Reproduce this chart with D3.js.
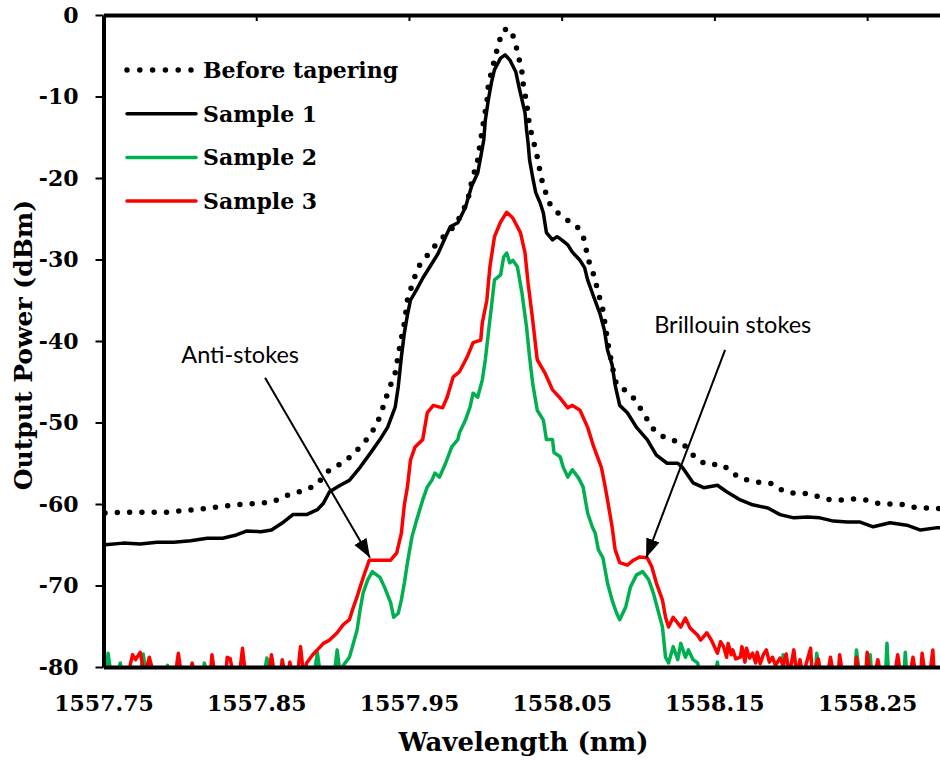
<!DOCTYPE html>
<html>
<head>
<meta charset="utf-8">
<script src="https://d3js.org/d3.v7.min.js"></script>
<style>
  html, body { margin: 0; padding: 0; background: #fff; overflow: hidden; }
  svg { display: block; }
  .axis text { font-family: 'DejaVu Serif', serif; font-weight: bold; font-size: 22px; fill: #000; }
  .axis .domain { stroke: #000; stroke-width: 4; }
  .axis .tick line { stroke: #000; stroke-width: 2; }
  .legend text { font-family: 'DejaVu Serif', serif; font-weight: bold; font-size: 22px; }
  .note { font-family: Lato, sans-serif; font-size: 23.5px; }
</style>
</head>
<body>
<script>
// wavelength (nm), output power (dBm)
const beforeTapering = [
  [1557.751,-61.1],[1557.769,-61.0],[1557.792,-61.0],[1557.815,-60.6],[1557.837,-60.1],[1557.860,-59.8],
  [1557.872,-58.8],[1557.882,-58.3],[1557.889,-57.7],[1557.898,-55.8],[1557.906,-55.0],[1557.913,-54.0],
  [1557.919,-52.8],[1557.925,-51.5],[1557.931,-49.3],[1557.936,-46.4],[1557.941,-43.9],[1557.944,-40.7],
  [1557.947,-37.8],[1557.949,-35.0],[1557.953,-32.5],[1557.957,-30.7],[1557.965,-28.8],[1557.970,-27.6],
  [1557.976,-26.7],[1557.980,-25.8],[1557.985,-24.3],[1557.989,-22.3],[1557.991,-20.5],[1557.995,-17.8],
  [1557.997,-15.3],[1557.999,-12.9],[1558.001,-10.8],[1558.002,-8.6],[1558.004,-7.0],[1558.006,-5.5],
  [1558.008,-4.0],[1558.010,-2.7],[1558.012,-1.8],[1558.016,-1.7],[1558.018,-2.5],[1558.020,-3.7],
  [1558.022,-5.3],[1558.024,-7.0],[1558.025,-8.8],[1558.027,-10.7],[1558.028,-12.3],[1558.029,-13.7],
  [1558.031,-15.1],[1558.033,-16.6],[1558.035,-18.2],[1558.036,-19.6],[1558.039,-21.5],[1558.042,-23.1],
  [1558.047,-24.2],[1558.054,-25.2],[1558.060,-25.9],[1558.065,-27.6],[1558.067,-29.8],[1558.071,-31.9],
  [1558.074,-34.1],[1558.077,-36.2],[1558.079,-38.7],[1558.081,-41.1],[1558.084,-43.9],[1558.086,-45.4],
  [1558.092,-46.1],[1558.097,-47.0],[1558.101,-48.1],[1558.105,-49.3],[1558.109,-50.6],[1558.114,-51.5],
  [1558.121,-52.1],[1558.129,-52.5],[1558.134,-53.6],[1558.139,-54.6],[1558.146,-55.2],[1558.154,-55.1],
  [1558.160,-55.8],[1558.166,-56.8],[1558.173,-57.1],[1558.181,-57.4],[1558.188,-57.5],[1558.195,-58.4],
  [1558.203,-58.7],[1558.211,-58.7],[1558.218,-59.1],[1558.226,-59.5],[1558.234,-59.5],[1558.241,-59.4],
  [1558.249,-59.5],[1558.257,-59.9],[1558.264,-60.0],[1558.272,-60.0],[1558.280,-60.4],[1558.287,-60.5],
  [1558.295,-60.5],[1558.298,-60.6]
];

const sample1 = [
  [1557.751,-65.0],[1557.763,-64.8],[1557.774,-64.9],[1557.785,-64.7],[1557.796,-64.7],[1557.807,-64.5],
  [1557.818,-64.2],[1557.828,-64.2],[1557.837,-63.8],[1557.844,-63.3],[1557.853,-63.4],[1557.860,-63.2],
  [1557.868,-62.2],[1557.874,-61.3],[1557.883,-61.3],[1557.890,-60.7],[1557.894,-59.9],[1557.898,-58.5],
  [1557.905,-57.7],[1557.911,-57.1],[1557.918,-55.5],[1557.925,-53.7],[1557.931,-52.1],[1557.936,-50.6],
  [1557.941,-48.1],[1557.943,-45.6],[1557.945,-42.0],[1557.947,-39.0],[1557.949,-36.8],[1557.951,-35.0],
  [1557.955,-33.7],[1557.959,-32.3],[1557.964,-30.8],[1557.969,-29.3],[1557.974,-27.2],[1557.977,-26.0],
  [1557.982,-25.5],[1557.987,-23.6],[1557.991,-21.0],[1557.995,-19.4],[1557.997,-17.4],[1557.999,-15.3],
  [1558.000,-12.9],[1558.002,-10.4],[1558.004,-8.3],[1558.006,-6.7],[1558.010,-5.3],[1558.013,-4.9],
  [1558.016,-5.5],[1558.020,-7.0],[1558.022,-8.8],[1558.024,-10.4],[1558.026,-12.0],[1558.027,-14.1],
  [1558.028,-15.7],[1558.029,-17.8],[1558.031,-19.9],[1558.033,-21.8],[1558.036,-23.1],[1558.038,-24.3],
  [1558.040,-26.7],[1558.044,-27.6],[1558.047,-27.2],[1558.050,-27.6],[1558.054,-28.2],[1558.057,-29.1],
  [1558.062,-30.1],[1558.065,-31.0],[1558.067,-32.5],[1558.071,-34.6],[1558.075,-36.6],[1558.078,-38.7],
  [1558.080,-41.1],[1558.083,-42.9],[1558.085,-45.4],[1558.088,-47.9],[1558.093,-48.8],[1558.099,-50.6],
  [1558.106,-52.1],[1558.112,-54.0],[1558.119,-55.0],[1558.126,-55.0],[1558.129,-55.5],[1558.136,-57.4],
  [1558.143,-58.0],[1558.152,-57.7],[1558.158,-58.5],[1558.167,-59.5],[1558.175,-60.1],[1558.185,-60.5],
  [1558.193,-61.3],[1558.202,-61.7],[1558.211,-61.6],[1558.219,-61.7],[1558.228,-62.1],[1558.237,-62.2],
  [1558.245,-62.2],[1558.254,-62.8],[1558.265,-62.3],[1558.276,-62.6],[1558.285,-63.2],[1558.296,-62.9],
  [1558.298,-62.9]
];

const sample2 = [
  [1557.751,-81],[1557.752,-81],[1557.753,-78.3],[1557.755,-81],[1557.759,-81],[1557.761,-79.5],[1557.762,-81],
  [1557.774,-81],[1557.776,-78.4],[1557.778,-81],[1557.790,-81],[1557.792,-79.8],[1557.793,-81],
  [1557.815,-81],[1557.816,-79.5],[1557.818,-81],[1557.855,-81],[1557.857,-78.9],[1557.859,-81],
  [1557.888,-81],[1557.890,-78.2],[1557.892,-81],[1557.901,-81],[1557.903,-77.9],[1557.905,-81],
  [1557.907,-79.8],[1557.911,-78.8],[1557.913,-77.5],[1557.916,-75.5],[1557.918,-73.0],[1557.920,-70.9],
  [1557.923,-69.3],[1557.926,-68.3],[1557.931,-69.0],[1557.934,-70.2],[1557.938,-72.1],[1557.940,-73.9],
  [1557.943,-73.4],[1557.945,-71.8],[1557.947,-69.7],[1557.949,-67.2],[1557.952,-64.0],[1557.955,-62.0],
  [1557.959,-59.5],[1557.962,-57.9],[1557.965,-57.1],[1557.967,-56.2],[1557.970,-56.7],[1557.974,-55.0],
  [1557.978,-53.0],[1557.982,-52.1],[1557.983,-51.3],[1557.987,-49.7],[1557.990,-48.1],[1557.992,-46.4],
  [1557.995,-46.9],[1557.998,-44.8],[1558.000,-42.3],[1558.002,-39.0],[1558.004,-35.8],[1558.006,-32.5],
  [1558.010,-31.9],[1558.012,-29.7],[1558.014,-29.2],[1558.016,-30.4],[1558.018,-30.1],[1558.021,-30.9],
  [1558.024,-34.1],[1558.027,-38.3],[1558.029,-42.0],[1558.031,-45.2],[1558.034,-48.5],[1558.038,-49.7],
  [1558.040,-52.1],[1558.044,-52.1],[1558.045,-53.7],[1558.049,-54.2],[1558.051,-55.5],[1558.054,-56.7],
  [1558.057,-55.8],[1558.061,-56.8],[1558.064,-57.9],[1558.067,-61.1],[1558.070,-62.8],[1558.072,-63.6],
  [1558.074,-65.6],[1558.077,-66.6],[1558.080,-69.7],[1558.083,-71.8],[1558.086,-73.4],[1558.088,-74.2],
  [1558.092,-72.6],[1558.095,-70.2],[1558.099,-68.7],[1558.103,-68.3],[1558.107,-69.3],[1558.110,-70.9],
  [1558.113,-73.0],[1558.116,-75.1],[1558.118,-78.8],[1558.120,-79.5],[1558.123,-77.5],[1558.126,-79.1],
  [1558.128,-77.1],[1558.131,-78.8],[1558.133,-77.9],[1558.136,-79.1],[1558.139,-79.5],[1558.141,-81],
  [1558.150,-81],[1558.152,-79.4],[1558.153,-81],[1558.194,-81],[1558.195,-78.5],[1558.196,-81],
  [1558.216,-81],[1558.217,-78.3],[1558.219,-81],[1558.242,-81],[1558.243,-77.9],[1558.245,-81],
  [1558.251,-81],[1558.252,-78.5],[1558.253,-81],[1558.262,-81],[1558.263,-77.1],[1558.264,-81],
  [1558.274,-81],[1558.275,-78.2],[1558.276,-81],[1558.298,-81]
];

const sample3 = [
  [1557.751,-81],[1557.766,-81],[1557.769,-78.5],[1557.771,-79.1],[1557.774,-78.2],[1557.777,-81],
  [1557.780,-78.8],[1557.783,-81],[1557.797,-81],[1557.799,-78.3],[1557.801,-81],[1557.807,-81],
  [1557.808,-79.5],[1557.810,-81],[1557.820,-81],[1557.821,-78.5],[1557.823,-81],[1557.830,-81],
  [1557.831,-78.8],[1557.833,-79.0],[1557.835,-81],[1557.839,-81],[1557.841,-77.7],[1557.843,-81],
  [1557.858,-81],[1557.860,-78.5],[1557.862,-81],[1557.866,-81],[1557.867,-79.1],[1557.869,-81],
  [1557.871,-81],[1557.872,-79.4],[1557.874,-81],[1557.877,-81],[1557.879,-77.5],[1557.881,-81],
  [1557.883,-79.5],[1557.887,-78.5],[1557.890,-77.9],[1557.894,-77.1],[1557.898,-76.7],[1557.903,-75.8],
  [1557.907,-74.8],[1557.911,-74.2],[1557.913,-73.0],[1557.916,-71.4],[1557.918,-70.2],[1557.921,-68.5],
  [1557.924,-66.9],[1557.931,-66.9],[1557.938,-66.9],[1557.942,-66.0],[1557.945,-63.6],[1557.947,-60.1],
  [1557.949,-57.9],[1557.951,-54.6],[1557.954,-53.0],[1557.959,-52.1],[1557.962,-48.8],[1557.966,-47.9],
  [1557.972,-48.2],[1557.975,-46.9],[1557.979,-44.4],[1557.983,-43.8],[1557.988,-42.0],[1557.992,-40.2],
  [1557.997,-39.9],[1557.998,-37.8],[1558.001,-35.0],[1558.003,-30.9],[1558.006,-27.2],[1558.010,-25.4],
  [1558.014,-24.2],[1558.018,-24.9],[1558.023,-26.7],[1558.026,-29.2],[1558.028,-32.9],[1558.031,-37.4],
  [1558.033,-40.7],[1558.034,-42.3],[1558.039,-43.9],[1558.044,-46.0],[1558.049,-47.0],[1558.054,-48.2],
  [1558.057,-47.9],[1558.062,-48.5],[1558.067,-50.6],[1558.071,-53.0],[1558.076,-55.5],[1558.078,-57.4],
  [1558.080,-59.5],[1558.083,-62.8],[1558.085,-65.6],[1558.088,-67.2],[1558.093,-67.5],[1558.097,-66.9],
  [1558.101,-66.5],[1558.106,-66.6],[1558.109,-67.7],[1558.112,-69.7],[1558.116,-71.8],[1558.118,-73.9],
  [1558.120,-75.1],[1558.123,-73.9],[1558.128,-75.1],[1558.131,-74.0],[1558.134,-75.2],[1558.139,-76.1],
  [1558.141,-76.7],[1558.145,-75.8],[1558.148,-76.7],[1558.152,-78.3],[1558.154,-76.9],[1558.156,-77.5],
  [1558.158,-78.8],[1558.159,-77.1],[1558.161,-78.5],[1558.162,-77.9],[1558.164,-79.0],[1558.167,-78.8],
  [1558.168,-77.5],[1558.170,-79.4],[1558.171,-77.7],[1558.173,-78.9],[1558.175,-78.3],[1558.177,-79.5],
  [1558.178,-78.2],[1558.180,-79.6],[1558.182,-78.5],[1558.184,-77.9],[1558.186,-79.4],[1558.188,-78.8],
  [1558.190,-79.8],[1558.193,-78.9],[1558.195,-79.8],[1558.197,-78.4],[1558.199,-81],[1558.202,-77.9],
  [1558.204,-81],[1558.206,-79.1],[1558.208,-81],[1558.213,-77.7],[1558.214,-81],[1558.218,-79.0],
  [1558.220,-81],[1558.224,-81],[1558.226,-78.8],[1558.228,-81],[1558.231,-81],[1558.232,-78.5],
  [1558.234,-81],[1558.242,-81],[1558.243,-78.8],[1558.245,-81],[1558.249,-81],[1558.250,-78.2],
  [1558.252,-81],[1558.255,-81],[1558.257,-79.1],[1558.259,-81],[1558.268,-81],[1558.270,-78.5],
  [1558.272,-81],[1558.278,-81],[1558.280,-78.8],[1558.282,-81],[1558.285,-81],[1558.286,-78.3],
  [1558.288,-81],[1558.291,-81],[1558.293,-77.9],[1558.294,-81],[1558.298,-81]
];

const seriesNames = ['Before tapering', 'Sample 1', 'Sample 2', 'Sample 3'];
const seriesColors = ['#000000', '#000000', '#00b050', '#ff0000'];
const xTicks = [1557.75, 1557.85, 1557.95, 1558.05, 1558.15, 1558.25];
const yTicks = [0, -10, -20, -30, -40, -50, -60, -70, -80];

// annotations: label, label position, arrow tail, arrow tip (nm, dBm)
const notes = [
  {text: 'Anti-stokes', at: [1557.8395, -42.7], from: [1557.8558, -44.5], to: [1557.9245, -66.6]},
  {text: 'Brillouin stokes', at: [1558.162, -39.0], from: [1558.157, -41.1], to: [1558.1053, -66.6]}
];

const width = 940, height = 763;
const margin = {top: 15, left: 103.5, bottom: 96};
const innerWidth = 840, innerHeight = height - margin.top - margin.bottom;

const svg = d3.select('body').append('svg')
  .attr('width', width).attr('height', height);

const g = svg.append('g').attr('transform', `translate(${margin.left},${margin.top})`);

const x = d3.scaleLinear().domain([1557.75, 1558.30]).range([0, innerWidth]);
const y = d3.scaleLinear().domain([-80, 0]).range([innerHeight, 0]);

svg.append('defs').append('clipPath').attr('id', 'plot')
  .append('rect').attr('x', 0).attr('y', -10).attr('width', innerWidth).attr('height', innerHeight + 10);

svg.select('defs').append('marker')
  .attr('id', 'head').attr('markerUnits', 'userSpaceOnUse')
  .attr('markerWidth', 20).attr('markerHeight', 16)
  .attr('refX', 19).attr('refY', 7).attr('orient', 'auto')
  .append('path').attr('d', 'M0,0L19,7L0,14Z').attr('fill', '#000');

const line = d3.line().x(d => x(d[0])).y(d => y(d[1]));

const plot = g.append('g').attr('clip-path', 'url(#plot)');
const allSeries = [beforeTapering, sample1, sample2, sample3];

plot.selectAll('path.series')
  .data(allSeries)
  .enter().append('path')
  .attr('class', 'series')
  .attr('d', line)
  .attr('fill', 'none')
  .attr('stroke', (d, i) => seriesColors[i])
  .attr('stroke-width', (d, i) => i === 0 ? 5.5 : 3.5)
  .attr('stroke-linecap', 'round')
  .attr('stroke-linejoin', 'round')
  .attr('stroke-dasharray', (d, i) => i === 0 ? '0 12.3' : null);

// axes
g.append('g').attr('class', 'axis')
  .attr('transform', `translate(0,${innerHeight})`)
  .call(d3.axisBottom(x).tickValues(xTicks).tickSize(0).tickSizeOuter(0).tickPadding(28)
    .tickFormat(d3.format('.2f')));

g.append('g').attr('class', 'axis')
  .call(d3.axisBottom(x).tickValues(xTicks.slice(1)).tickSize(6).tickSizeOuter(0).tickFormat(''));

g.append('g').attr('class', 'axis')
  .call(d3.axisLeft(y).tickValues(yTicks).tickSize(8).tickSizeOuter(0).tickPadding(17)
    .tickFormat(d => String(d)));

// axis titles
g.append('text')
  .attr('x', x(1558.025)).attr('y', innerHeight + 84)
  .attr('text-anchor', 'middle')
  .style('font-family', "'DejaVu Serif', serif").style('font-weight', 'bold').style('font-size', '26px')
  .text('Wavelength (nm)');

g.append('text')
  .attr('transform', `translate(${-72},${y(-40.5)}) rotate(-90)`)
  .attr('text-anchor', 'middle')
  .style('font-family', "'DejaVu Serif', serif").style('font-weight', 'bold').style('font-size', '25px')
  .text('Output Power (dBm)');

// legend
const legend = svg.append('g').attr('class', 'legend')
  .selectAll('g').data(seriesNames).enter().append('g')
  .attr('transform', (d, i) => `translate(127,${70 + i * 43.7})`);

legend.append('line')
  .attr('x1', 0).attr('x2', 69).attr('y1', 0).attr('y2', 0)
  .attr('stroke', (d, i) => seriesColors[i])
  .attr('stroke-width', (d, i) => i === 0 ? 5.5 : 3.5)
  .attr('stroke-linecap', 'round')
  .attr('stroke-dasharray', (d, i) => i === 0 ? '0 12.8' : null);

legend.append('text')
  .attr('x', 76).attr('y', 8)
  .text(d => d);

// annotations
const note = g.append('g').selectAll('g').data(notes).enter().append('g');

note.append('line')
  .attr('x1', d => x(d.from[0])).attr('y1', d => y(d.from[1]))
  .attr('x2', d => x(d.to[0])).attr('y2', d => y(d.to[1]))
  .attr('stroke', '#000').attr('stroke-width', 2)
  .attr('marker-end', 'url(#head)');

note.append('text')
  .attr('class', 'note')
  .attr('x', d => x(d.at[0])).attr('y', d => y(d.at[1]))
  .attr('text-anchor', 'middle')
  .text(d => d.text);
</script>
</body>
</html>
